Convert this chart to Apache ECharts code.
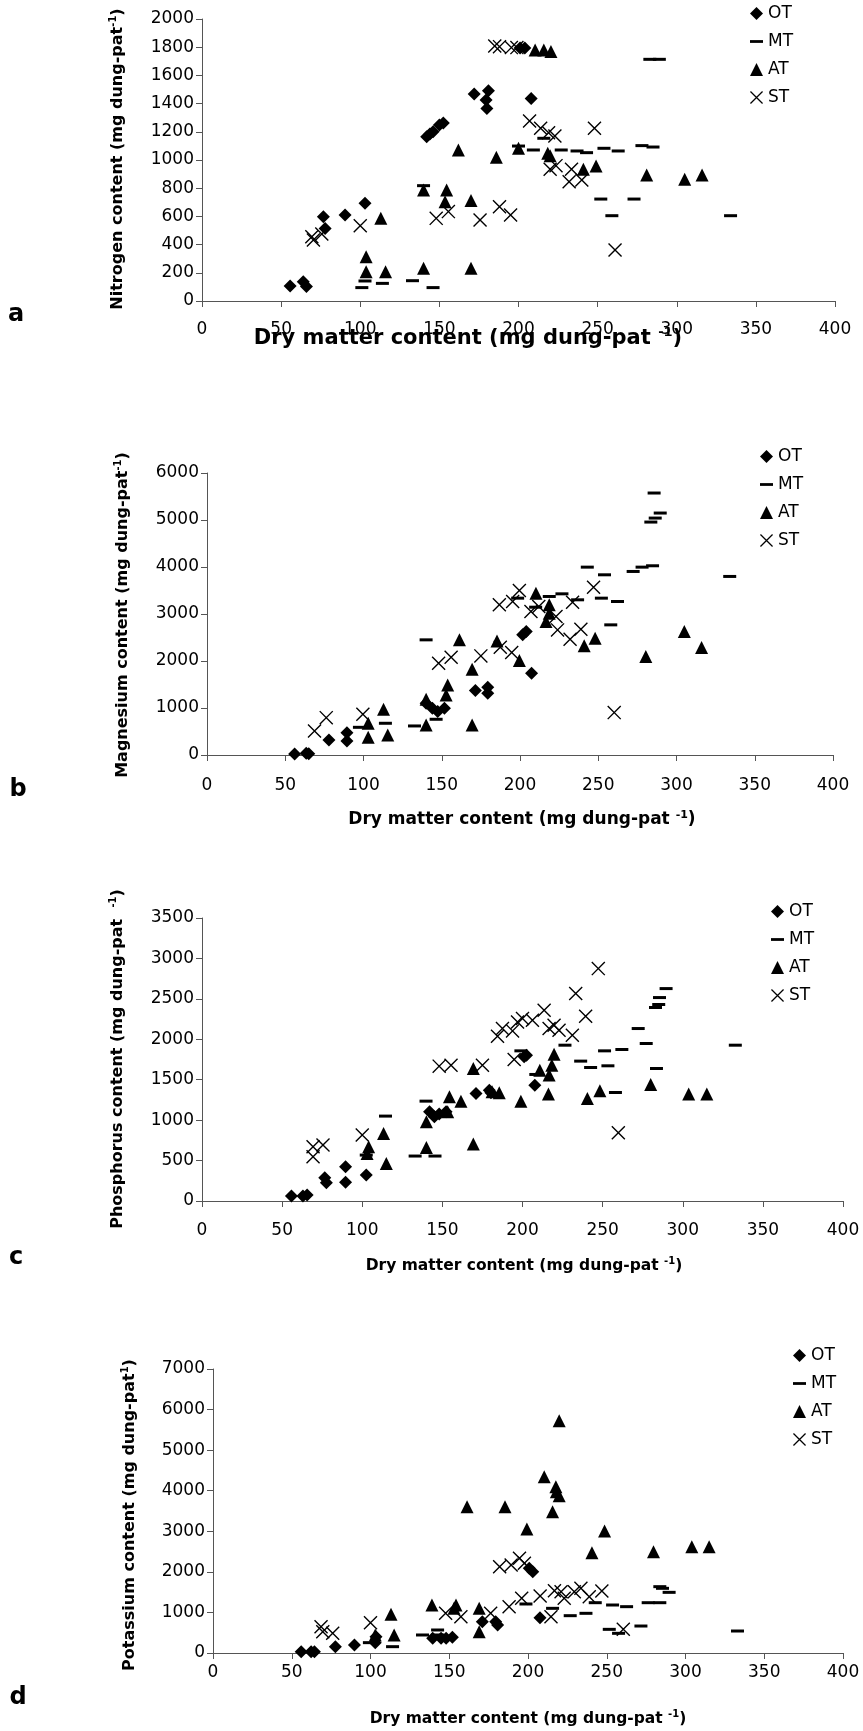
<!DOCTYPE html>
<html><head><meta charset="utf-8">
<script src="https://cdn.jsdelivr.net/npm/echarts@6/dist/echarts.min.js"></script>
<style>html,body{margin:0;padding:0;background:#fff}#c{width:863px;height:1731px}</style>
</head><body><div id="c"></div>
<script>
// ---- data: [dry matter, content] per treatment ----
const aOT = [[55.7,106],[64,137],[66,102],[76.7,598],[77.8,515],[90.4,610],[103,693],[142,1165],[144,1185],[146,1200],[150,1248],[152.5,1262],[172,1468],[181,1492],[179.5,1425],[180,1366],[201,1795],[204,1795],[208,1437]];
const aMT = [[101,95],[103,142],[114,125],[133,144],[146,95],[140,818],[200,1099],[209.4,1071],[216,1154],[227,1071],[237,1064],[243,1052],[254,1083],[263,1064],[278,1102],[285,1092],[283,1714],[289,1714],[252,723],[273,723],[259,605],[334,605]];
const aAT = [[103.7,314],[103.7,208],[116,208],[113,586],[140,232],[170,232],[140,787],[154.6,787],[153.6,704],[170,712],[162,1071],[186,1019],[200,1083],[210.5,1780],[216,1780],[220.5,1770],[218.5,1047],[220,1030],[241,934],[249,957],[281,894],[305,863],[316,894]];
const aST = [[69.4,456],[70.4,433],[75.7,475],[100,534],[148,586],[155.7,634],[175.7,574],[188,669],[195,610],[185,1808],[188,1804],[195.5,1797],[199,1797],[207,1277],[214,1225],[219,1194],[223,1170],[248,1225],[220,934],[223.7,960],[233.5,934],[232,846],[240,858],[261,362]];

const bOT = [[56,21],[63.4,35],[65,28],[77.9,320],[89.4,476],[89.4,298],[140,1100],[144,994],[147.4,923],[151.7,994],[171.5,1370],[179.4,1441],[179.4,1313],[201.7,2556],[204,2627],[207.4,1740]];
const bMT = [[97.4,589],[114,675],[140,2450],[132.6,618],[146.4,760],[198.5,3337],[210,3145],[218.7,3373],[226.8,3429],[236.8,3302],[243,3997],[254,3834],[252,3337],[262.3,3266],[258,2769],[272.3,3905],[278,3997],[284.7,4026],[285.7,5574],[289.6,5148],[286.4,5041],[283.6,4956],[334,3799]];
const bAT = [[103,675],[103,376],[115.5,426],[112.8,973],[140,1186],[140,639],[169.4,639],[153.8,1491],[152.8,1278],[169.4,1825],[161.3,2450],[185.3,2428],[199.6,2009],[210.2,3444],[218.7,3195],[218.7,3018],[216.6,2840],[241,2322],[248,2485],[280.4,2095],[305,2627],[316,2286]];
const bST = [[68.7,511],[76.2,795],[99.6,866],[148,1953],[156,2080],[175,2109],[187.4,2293],[194.7,2180],[186.8,3195],[195.3,3266],[199.6,3500],[207,3053],[212,3160],[223,2946],[224,2662],[232,2464],[238.9,2677],[233.6,3252],[247,3571],[260.2,902]];

const cOT = [[55.8,62],[63,62],[65.6,74],[76.6,288],[77.6,226],[89.6,424],[89.6,231],[102.5,321],[142,1104],[145,1042],[148,1075],[152.3,1104],[171,1330],[179.3,1371],[180.3,1338],[201,1783],[202.5,1804],[207.7,1433]];
const cMT = [[102.5,568],[114.5,1050],[133,556],[145.4,556],[139.8,1235],[199,1857],[208.3,1565],[226.5,1927],[236.3,1730],[242.5,1651],[251.2,1857],[253.3,1672],[258,1342],[262,1874],[272.2,2133],[277.2,1948],[283.6,1639],[283,2393],[285,2430],[285.5,2516],[289.6,2627],[332.8,1927]];
const cAT = [[104,671],[103,589],[115,465],[113.3,836],[140,980],[140,663],[169.3,704],[154.4,1289],[161.6,1235],[153.3,1104],[169.3,1639],[181,1351],[185.5,1338],[199,1235],[210.8,1618],[219.7,1816],[218.3,1680],[216.6,1557],[216.2,1322],[240.5,1268],[248.3,1363],[280,1441],[303.7,1322],[315,1322]];
const cST = [[69.3,548],[69.3,671],[75.5,692],[100,815],[148,1668],[155.4,1680],[175,1680],[194.8,1750],[184.4,2038],[187.5,2133],[193.8,2104],[196.9,2215],[200,2257],[206.2,2236],[213.5,2360],[216.6,2133],[219.7,2174],[222.8,2113],[231.1,2051],[233.2,2565],[239.4,2285],[247.3,2874],[259.8,844]];

const dOT = [[56,33],[62.3,33],[64.4,33],[77.7,156],[89.8,197],[103,255],[103.5,400],[139.5,361],[144.8,361],[148,361],[152,386],[171,772],[179.5,772],[180.7,690],[200.8,2087],[203,2005],[207.6,871]];
const dMT = [[114,156],[99.3,255],[133,444],[142.6,567],[142.6,444],[198.7,1208],[215.6,1101],[226.8,920],[236.8,978],[242.7,1240],[253.7,1183],[262.6,1142],[251.6,583],[257.5,485],[271.7,665],[276.3,1240],[283.7,1240],[283.7,1635],[285.4,1594],[289.6,1495],[333,542]];
const dAT = [[103,444],[115,444],[113,953],[139,1183],[154.3,1183],[153,1101],[169,1101],[169,526],[161.3,3607],[185.4,3607],[199.3,3056],[210.3,4346],[217.7,4100],[218,3977],[219.8,3878],[215.6,3484],[219.8,5727],[248.6,3007],[240.6,2473],[279.7,2498],[304,2621],[315,2621]];
const dST = [[68.6,649],[69.7,526],[76,485],[100,748],[147.7,978],[157.4,896],[176.3,978],[188,1142],[196,1347],[207.7,1405],[182,2128],[189.3,2169],[194.6,2333],[197.7,2210],[214.6,896],[216.8,1536],[221,1512],[223,1347],[229.4,1512],[233.6,1594],[238.9,1388],[246.9,1528],[260.5,583]];

const treatments = ['OT','MT','AT','ST'];
const panelLetters = ['a','b','c','d'];
const yTitles = ['Nitrogen content (mg dung-pat','Magnesium content (mg dung-pat','Phosphorus content (mg dung-pat  ','Potassium content (mg dung-pat'];
const ySups = ['-1','-1','-1','1'];
const xTitle = 'Dry matter content (mg dung-pat ';
const xSup = '-1';
const yMax = [2000, 6000, 3500, 7000];
const yStep = [200, 1000, 500, 1000];
const xMax = 400, xStep = 50;
const panelData = [[aOT,aMT,aAT,aST],[bOT,bMT,bAT,bST],[cOT,cMT,cAT,cST],[dOT,dMT,dAT,dST]];

// ---- layout ----
const grids = [
  {left:202, top:19, width:633, height:282},
  {left:207, top:473, width:626, height:282},
  {left:202, top:918, width:641, height:283},
  {left:213, top:1369, width:630, height:284}
];
const xLabelMargin = [20, 22, 21, 11];
const legendPos = [[750,5],[760,448],[771,903],[793,1347]];
const yTitlePos = [[118,159],[123,615],[118,1059],[130,1515]];
const xTitlePos = [[468,339,21],[522,820,17],[524,1266,15.5],[528,1719,15.5]];
const letterPos = [[16,315],[18,790],[16,1258],[18,1698]];

const XPATH = 'path://M0,0.7L0.7,0L10,9.3L9.3,10Z M9.3,0L10,0.7L0.7,10L0,9.3Z';
const DASH = 'path://M0,0H14V3H0Z';
const symbols = ['diamond','rect','triangle',XPATH];
const symSizes = [13,[13,3],13,14];
const legendIcons = ['diamond',DASH,'triangle',XPATH];

const axColor = '#555';
const FONT = 'DejaVu Sans';

const option = {
  animation:false,
  backgroundColor:'#fff',
  grid: grids.map(g => Object.assign({outerBoundsMode:'none', containLabel:false}, g)),
  xAxis: grids.map((g,i) => ({
    type:'value', gridIndex:i, min:0, max:xMax, interval:xStep,
    axisLine:{show:true, onZero:false, lineStyle:{color:axColor, width:1}},
    axisTick:{show:true, length:6, lineStyle:{color:axColor}},
    axisLabel:{color:'#000', fontFamily:FONT, fontSize:17, margin:xLabelMargin[i], formatter: v => String(v)},
    splitLine:{show:false}
  })),
  yAxis: grids.map((g,i) => ({
    type:'value', gridIndex:i, min:0, max:yMax[i], interval:yStep[i],
    axisLine:{show:true, onZero:false, lineStyle:{color:axColor, width:1}},
    axisTick:{show:true, length:6, lineStyle:{color:axColor}},
    axisLabel:{color:'#000', fontFamily:FONT, fontSize:17, margin:8, formatter: v => String(v)},
    splitLine:{show:false}
  })),
  legend: legendPos.map(p => ({
    left:p[0], top:p[1], orient:'vertical', itemWidth:13, itemHeight:13, itemGap:11,
    selectedMode:false, padding:0,
    textStyle:{fontFamily:FONT, fontSize:17, color:'#000'},
    data: treatments.map((t,k) => ({name:t, icon:legendIcons[k]}))
  })),
  series: [],
  graphic: []
};

panelData.forEach((sets, i) => {
  sets.forEach((d, k) => {
    option.series.push({
      type:'scatter', name:treatments[k], xAxisIndex:i, yAxisIndex:i,
      symbol:symbols[k], symbolSize:symSizes[k], data:d,
      itemStyle:{color:'#000', opacity:1}
    });
  });
  option.graphic.push({
    type:'text', x:yTitlePos[i][0], y:yTitlePos[i][1], rotation:Math.PI/2,
    style:{text:'{t|'+yTitles[i]+'}{s|'+ySups[i]+'}{t|)}', align:'center', verticalAlign:'middle',
      rich:{t:{fontFamily:FONT, fontWeight:'bold', fontSize:16, fill:'#000', lineHeight:20},
            s:{fontFamily:FONT, fontWeight:'bold', fontSize:10, fill:'#000', verticalAlign:'top', lineHeight:20}}}
  });
  const fs = xTitlePos[i][2];
  option.graphic.push({
    type:'text', x:xTitlePos[i][0], y:xTitlePos[i][1],
    style:{text:'{t|'+xTitle+'}{s|'+xSup+'}{t|)}', align:'center', verticalAlign:'middle',
      rich:{t:{fontFamily:FONT, fontWeight:'bold', fontSize:fs, fill:'#000', lineHeight:fs+4},
            s:{fontFamily:FONT, fontWeight:'bold', fontSize:Math.round(fs*0.62), fill:'#000', verticalAlign:'top', lineHeight:fs+4}}}
  });
  option.graphic.push({
    type:'text', x:letterPos[i][0], y:letterPos[i][1],
    style:{text:panelLetters[i], fontFamily:FONT, fontWeight:'bold', fontSize:24, fill:'#000', align:'center', verticalAlign:'middle'}
  });
});

const chart = echarts.init(document.getElementById('c'), null, {renderer:'canvas'});
chart.setOption(option);
</script></body></html>
